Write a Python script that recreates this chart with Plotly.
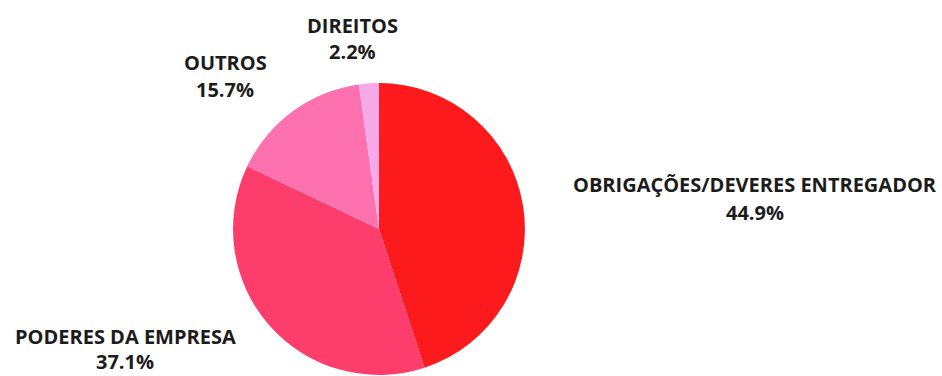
import plotly.graph_objects as go

# Share of each category (percent)
categories = ["OBRIGAÇÕES/DEVERES ENTREGADOR", "PODERES DA EMPRESA", "OUTROS", "DIREITOS"]
shares = [44.9, 37.1, 15.7, 2.2]
colors = ["#fc1a1c", "#fd3e6c", "#fc71ae", "#f8aae8"]

# Label anchor positions in paper coordinates (centre of the name line, percent line)
label_x = [0.801, 0.133, 0.239, 0.374]
name_y = [0.508, 0.106, 0.835, 0.932]
pct_y = [0.434, 0.038, 0.761, 0.862]

fig = go.Figure(
    go.Pie(
        labels=categories,
        values=shares,
        marker=dict(colors=colors, line=dict(width=0)),
        sort=False,
        direction="clockwise",
        rotation=0,
        textinfo="none",
        hoverinfo="label+percent",
        domain=dict(x=[0.2473, 0.5573], y=[0.0027, 0.779]),
        showlegend=False,
    )
)

font = dict(family="Open Sans", size=20, color="#1c1c1c")
annotations = []
for name, val, x, ny, py in zip(categories, shares, label_x, name_y, pct_y):
    annotations.append(dict(x=x, y=ny, xref="paper", yref="paper", text=f"<b>{name}</b>",
                            showarrow=False, font=font, xanchor="center", yanchor="middle",
                            borderpad=0))
    annotations.append(dict(x=x, y=py, xref="paper", yref="paper", text=f"<b>{val}%</b>",
                            showarrow=False, font=font, xanchor="center", yanchor="middle",
                            borderpad=0))

fig.update_layout(
    width=942,
    height=376,
    margin=dict(l=0, r=0, t=0, b=0),
    paper_bgcolor="white",
    plot_bgcolor="white",
    annotations=annotations,
)

fig.write_html("out.html")
